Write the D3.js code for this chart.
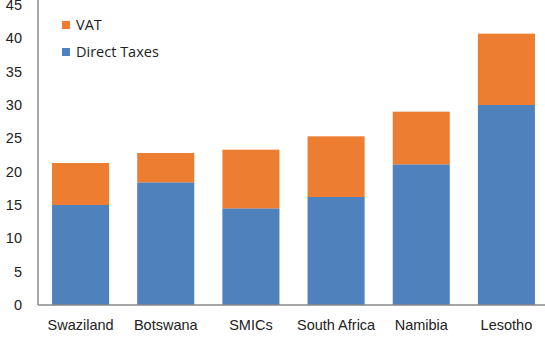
<!DOCTYPE html>
<html>
<head>
<meta charset="utf-8">
<script src="https://cdn.jsdelivr.net/npm/d3@7"></script>
<style>
  html, body { margin: 0; padding: 0; background: #fff; }
  svg { display: block; font-family: "Open Sans", "Noto Sans", sans-serif; }
</style>
</head>
<body>
<svg id="chart" width="545" height="337"></svg>
<script>
// Tax revenue by country, percent of GDP
const countries = ["Swaziland", "Botswana", "SMICs", "South Africa", "Namibia", "Lesotho"];
const directTaxes = [15.0, 18.4, 14.5, 16.2, 21.1, 30.0];
const vat = [6.3, 4.4, 8.8, 9.1, 7.9, 10.7];
const yTicks = [0, 5, 10, 15, 20, 25, 30, 35, 40, 45];
const seriesNames = ["Direct Taxes", "VAT"];
const seriesColors = ["#4F81BD", "#ED7D31"];

const rows = countries.map((c, i) => ({ country: c, "Direct Taxes": directTaxes[i], "VAT": vat[i] }));
const stacked = d3.stack().keys(seriesNames)(rows);

const svg = d3.select("#chart");
const plotLeft = 38, plotRight = 549, plotTop = 5, plotBottom = 305;

const x = d3.scaleBand().domain(countries).range([plotLeft, plotRight]).paddingInner(0.33).paddingOuter(0.165);
const y = d3.scaleLinear().domain([0, 45]).range([plotBottom, plotTop]);

// Stacked bars
svg.append("g").selectAll("g")
  .data(stacked)
  .join("g")
  .attr("fill", (d, i) => seriesColors[i])
  .selectAll("rect")
  .data(d => d)
  .join("rect")
  .attr("x", d => x(d.data.country))
  .attr("width", x.bandwidth())
  .attr("y", d => y(d[1]))
  .attr("height", d => y(d[0]) - y(d[1]));

// Y axis: labels only, with a plain vertical rule
const yAxis = svg.append("g")
  .attr("transform", `translate(${plotLeft},0)`)
  .call(d3.axisLeft(y).tickValues(yTicks).tickSize(0).tickPadding(16));
yAxis.select(".domain").remove();
yAxis.selectAll("text").attr("font-size", 14.5).attr("fill", "#222");
svg.append("line")
  .attr("x1", plotLeft).attr("x2", plotLeft)
  .attr("y1", 0).attr("y2", plotBottom)
  .attr("stroke", "#888").attr("stroke-width", 1.5);

// X axis: category labels and baseline
const xAxis = svg.append("g")
  .attr("transform", `translate(0,${plotBottom})`)
  .call(d3.axisBottom(x).tickSize(0).tickPadding(15));
xAxis.select(".domain").remove();
xAxis.selectAll("text").attr("font-size", 14.5).attr("fill", "#222");
svg.append("line")
  .attr("x1", plotLeft).attr("x2", 545)
  .attr("y1", plotBottom).attr("y2", plotBottom)
  .attr("stroke", "#888").attr("stroke-width", 1.5);

// Legend
const legendItems = [
  { name: "VAT", color: seriesColors[1] },
  { name: "Direct Taxes", color: seriesColors[0] }
];
const legend = svg.append("g").selectAll("g")
  .data(legendItems)
  .join("g")
  .attr("transform", (d, i) => `translate(62,${21 + i * 27})`);
legend.append("rect").attr("width", 8).attr("height", 8).attr("fill", d => d.color);
legend.append("text")
  .attr("x", 14).attr("y", 4).attr("dy", "0.35em")
  .attr("font-size", 14.5).attr("fill", "#222")
  .text(d => d.name);
</script>
</body>
</html>
